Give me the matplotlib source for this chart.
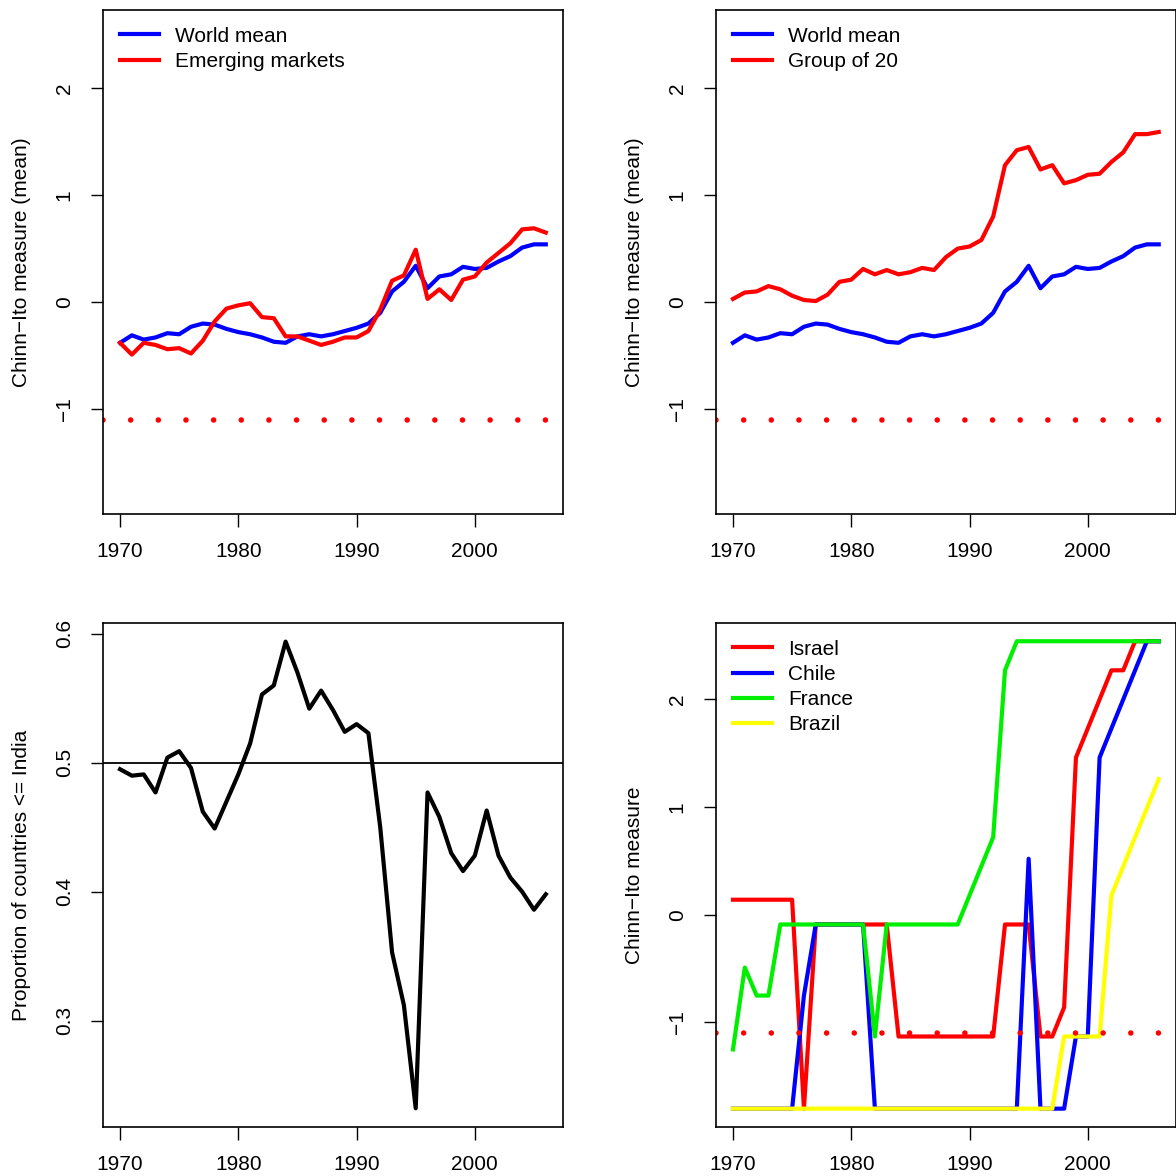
import numpy as np
import matplotlib.pyplot as plt

plt.rcParams['font.family'] = ['Liberation Sans', 'DejaVu Sans']
plt.rcParams['lines.scale_dashes'] = False

years = np.arange(1970, 2007)
world = [-0.38, -0.31, -0.35, -0.33, -0.29, -0.30, -0.23, -0.20, -0.21, -0.25, -0.28, -0.30, -0.33,
         -0.37, -0.38, -0.32, -0.30, -0.32, -0.30, -0.27, -0.24, -0.20, -0.10, 0.10, 0.19, 0.34,
         0.13, 0.24, 0.26, 0.33, 0.31, 0.32, 0.38, 0.43, 0.51, 0.54, 0.54]
emerging = [-0.38, -0.49, -0.38, -0.40, -0.44, -0.43, -0.48, -0.36, -0.18, -0.06, -0.03, -0.01, -0.14,
            -0.15, -0.32, -0.32, -0.36, -0.40, -0.37, -0.33, -0.33, -0.27, -0.07, 0.20, 0.25, 0.49,
            0.03, 0.12, 0.02, 0.21, 0.24, 0.37, 0.46, 0.55, 0.68, 0.69, 0.65]
g20 = [0.03, 0.09, 0.10, 0.15, 0.12, 0.06, 0.02, 0.01, 0.07, 0.19, 0.21, 0.31, 0.26, 0.30, 0.26,
       0.28, 0.32, 0.30, 0.42, 0.50, 0.52, 0.58, 0.80, 1.28, 1.42, 1.45, 1.24, 1.28, 1.11, 1.14,
       1.19, 1.20, 1.31, 1.40, 1.57, 1.57, 1.59]
prop = [0.495, 0.490, 0.491, 0.477, 0.504, 0.509, 0.496, 0.462, 0.449, 0.470, 0.491, 0.515, 0.553,
        0.560, 0.594, 0.570, 0.542, 0.556, 0.541, 0.524, 0.530, 0.523, 0.450, 0.353, 0.312, 0.232,
        0.477, 0.458, 0.430, 0.416, 0.428, 0.463, 0.428, 0.411, 0.400, 0.386, 0.398]
israel = [0.14] * 6 + [-1.8] + [-0.09] * 7 + [-1.13] * 9 + [-0.09] * 3 + [-1.13, -1.13, -0.86,
          1.46, 1.73, 2.0, 2.27, 2.27, 2.54, 2.54, 2.54]
chile = [-1.8] * 6 + [-0.75] + [-0.09] * 5 + [-1.8] * 13 + [0.52, -1.8, -1.8, -1.8, -1.13, -1.13,
         1.46, 1.73, 2.0, 2.27, 2.54, 2.54]
france = [-1.25, -0.49, -0.75, -0.75] + [-0.09] * 8 + [-1.13] + [-0.09] * 7 + [0.18, 0.45, 0.72,
          2.27] + [2.54] * 13
brazil = [-1.8] * 28 + [-1.13] * 4 + [0.18, 0.45, 0.72, 0.99, 1.26]
cutoff = -1.1

fig = plt.figure(figsize=(11.76, 11.76), dpi=100)
L = [0.0876, 0.6088]
W = [0.391, 0.391]
B = [0.5629, 0.0417]
H = 0.4286
axs = [[fig.add_axes([L[c], B[r], W[c], H]) for c in range(2)] for r in range(2)]
lw = 3.0

def style(ax, ylim, yticks, ylabel):
    ax.set_xlim(1968.56, 2007.44)
    ax.set_ylim(*ylim)
    ax.set_xticks([1970, 1980, 1990, 2000])
    ax.set_yticks(yticks)
    ax.tick_params(labelsize=15, length=9, width=1)
    ax.tick_params(axis='x', pad=11)
    ax.tick_params(axis='y', pad=12)
    for lab in ax.get_yticklabels():
        lab.set_rotation(90)
        lab.set_va('center')
    for s in ax.spines.values():
        s.set_linewidth(1.2)
    if ylabel:
        ax.set_ylabel(ylabel, fontsize=15, labelpad=17)

def dots(ax):
    ax.axhline(cutoff, color='red', lw=4, linestyle=(0, (0.01, 19.9)), dash_capstyle='round')

def leg(ax):
    ax.legend(loc='upper left', frameon=False, fontsize=15, handlelength=1.9, borderaxespad=0.4,
              labelspacing=0.3, handletextpad=0.75)

ax = axs[0][0]
ax.plot(years, world, color='blue', lw=lw, label='World mean')
ax.plot(years, emerging, color='red', lw=lw, label='Emerging markets')
dots(ax)
style(ax, (-1.98, 2.73), [-1, 0, 1, 2], 'Chinn\u2212Ito measure (mean)')
leg(ax)

ax = axs[0][1]
ax.plot(years, world, color='blue', lw=lw, label='World mean')
ax.plot(years, g20, color='red', lw=lw, label='Group of 20')
dots(ax)
style(ax, (-1.98, 2.73), [-1, 0, 1, 2], 'Chinn\u2212Ito measure (mean)')
leg(ax)

ax = axs[1][0]
ax.plot(years, prop, color='black', lw=lw)
ax.axhline(0.5, color='black', lw=1.3)
style(ax, (0.2175, 0.6085), [0.3, 0.4, 0.5, 0.6], 'Proportion of countries <= India')

ax = axs[1][1]
ax.plot(years, israel, color='red', lw=lw, label='Israel')
ax.plot(years, chile, color='blue', lw=lw, label='Chile')
ax.plot(years, france, color='#00ee00', lw=lw, label='France')
ax.plot(years, brazil, color='yellow', lw=lw, label='Brazil')
dots(ax)
style(ax, (-1.97, 2.71), [-1, 0, 1, 2], 'Chinn\u2212Ito measure')
leg(ax)

fig.savefig('out.png', dpi=100)
